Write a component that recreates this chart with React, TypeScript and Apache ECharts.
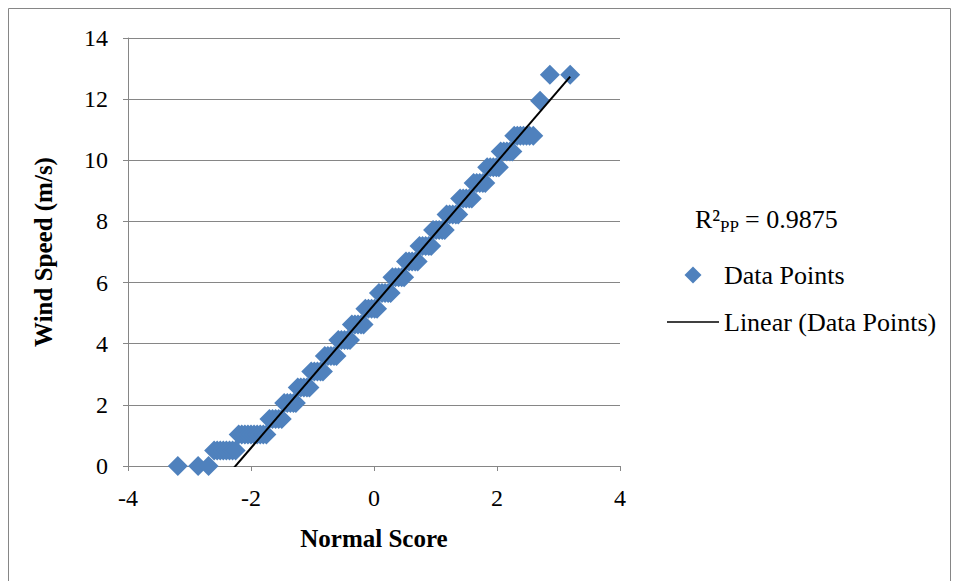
import React, { useEffect, useRef } from "react";
import * as echarts from "echarts";

// Wind speed levels (m/s), each with the normal scores of its points
const windLevels = [
  0, 0.51, 1.03, 1.54, 2.06, 2.57, 3.09, 3.6, 4.12, 4.63, 5.14, 5.66,
  6.17, 6.69, 7.2, 7.72, 8.23, 8.75, 9.26, 9.77, 10.29, 10.8, 11.95, 12.8,
];

const normalScores: number[][] = [
  [-3.19, -2.86, -2.69],
  [-2.6, -2.55, -2.5, -2.45, -2.4, -2.35, -2.3, -2.25],
  [-2.2, -2.15, -2.1, -2.05, -2.0, -1.95, -1.9, -1.85, -1.8, -1.75],
  [-1.7, -1.65, -1.6, -1.55, -1.5],
  [-1.46, -1.41, -1.36, -1.31, -1.27],
  [-1.24, -1.19, -1.14, -1.09, -1.05],
  [-1.02, -0.97, -0.92, -0.87, -0.83],
  [-0.8, -0.75, -0.7, -0.65, -0.61],
  [-0.58, -0.53, -0.48, -0.43, -0.39],
  [-0.36, -0.31, -0.26, -0.21, -0.17],
  [-0.14, -0.09, -0.04, 0.01, 0.05],
  [0.08, 0.13, 0.18, 0.23, 0.27],
  [0.3, 0.35, 0.4, 0.45, 0.49],
  [0.52, 0.57, 0.62, 0.67, 0.71],
  [0.74, 0.79, 0.84, 0.89, 0.93],
  [0.96, 1.01, 1.06, 1.11, 1.15],
  [1.18, 1.23, 1.28, 1.33, 1.37],
  [1.4, 1.45, 1.5, 1.55, 1.59],
  [1.62, 1.67, 1.72, 1.77, 1.81],
  [1.84, 1.89, 1.94, 1.99, 2.03],
  [2.06, 2.11, 2.16, 2.21, 2.25],
  [2.28, 2.33, 2.38, 2.43, 2.48, 2.53, 2.59],
  [2.7],
  [2.86, 3.19],
];

// Linear trendline
const trendSlope = 2.34;
const trendIntercept = 5.27;
const rSquaredLabel = "0.9875";

const FONT = "'Liberation Serif', 'Times New Roman', serif";
const GRAY = "#868686";

export default function App() {
  const ref = useRef<HTMLDivElement>(null);

  useEffect(() => {
    if (!ref.current) return;
    const chart = echarts.init(ref.current, undefined, { renderer: "svg" });

    const points: [number, number][] = [];
    windLevels.forEach((lvl, i) => {
      normalScores[i].forEach((s) => points.push([s, lvl]));
    });
    const allX = points.map((p) => p[0]);
    const xMin = Math.min(...allX);
    const xMax = Math.max(...allX);
    const trend: [number, number][] = [
      [xMin, trendIntercept + trendSlope * xMin],
      [xMax, trendIntercept + trendSlope * xMax],
    ];

    chart.setOption({
      animation: false,
      grid: { left: 128, right: 339, top: 38, bottom: 115 },
      xAxis: {
        type: "value",
        min: -4,
        max: 4,
        interval: 2,
        axisLine: { show: true, onZero: false, lineStyle: { color: GRAY, width: 1 } },
        axisTick: { show: true, length: 5, lineStyle: { color: GRAY } },
        splitLine: { show: false },
        axisLabel: { color: "#000", fontFamily: FONT, fontSize: 24, margin: 20 },
        name: "Normal Score",
        nameLocation: "middle",
        nameGap: 60,
        nameTextStyle: { color: "#000", fontFamily: FONT, fontSize: 25, fontWeight: "bold" },
      },
      yAxis: {
        type: "value",
        min: 0,
        max: 14,
        interval: 2,
        axisLine: { show: true, onZero: false, lineStyle: { color: GRAY, width: 1 } },
        axisTick: { show: true, length: 5, lineStyle: { color: GRAY } },
        splitLine: { show: true, lineStyle: { color: GRAY, width: 1 } },
        axisLabel: { color: "#000", fontFamily: FONT, fontSize: 24, margin: 20 },
        name: "Wind Speed (m/s)",
        nameLocation: "middle",
        nameGap: 72,
        nameRotate: 90,
        nameTextStyle: { color: "#000", fontFamily: FONT, fontSize: 25, fontWeight: "bold" },
      },
      legend: {
        orient: "vertical",
        left: 667,
        top: 262,
        padding: 0,
        itemWidth: 52,
        itemHeight: 17,
        itemGap: 21,
        textStyle: { color: "#000", fontFamily: FONT, fontSize: 26 },
        data: [
          { name: "Data Points", icon: "path://M0,-1L1,0L0,1L-1,0Z" },
          { name: "Linear (Data Points)", icon: "path://M0,0H52V1.6H0Z" },
        ],
      },
      series: [
        {
          type: "scatter",
          name: "Data Points",
          data: points,
          symbol: "diamond",
          symbolSize: 20,
          clip: false,
          itemStyle: { color: "#4F81BD", opacity: 1 },
        },
        {
          type: "line",
          name: "Linear (Data Points)",
          data: trend,
          symbol: "none",
          clip: true,
          lineStyle: { color: "#000", width: 2 },
          itemStyle: { color: "#000" },
        },
      ],
      graphic: [
        {
          type: "rect",
          silent: true,
          shape: { x: 8.5, y: 8.5, width: 942, height: 600 },
          style: { fill: "none", stroke: GRAY, lineWidth: 1 },
        },
        {
          type: "text",
          x: 695,
          y: 219,
          style: { text: "R²", font: `26px ${FONT}`, fill: "#000", textVerticalAlign: "middle" },
        },
        {
          type: "text",
          x: 720,
          y: 226,
          style: { text: "PP", font: `17px ${FONT}`, fill: "#000", textVerticalAlign: "middle" },
        },
        {
          type: "text",
          x: 745,
          y: 219,
          style: { text: "= " + rSquaredLabel, font: `26px ${FONT}`, fill: "#000", textVerticalAlign: "middle" },
        },
      ],
    });

    return () => chart.dispose();
  }, []);

  return (
    <div
      ref={ref}
      style={{ position: "fixed", left: 0, top: 0, width: 959, height: 581, background: "#fff" }}
    />
  );
}
